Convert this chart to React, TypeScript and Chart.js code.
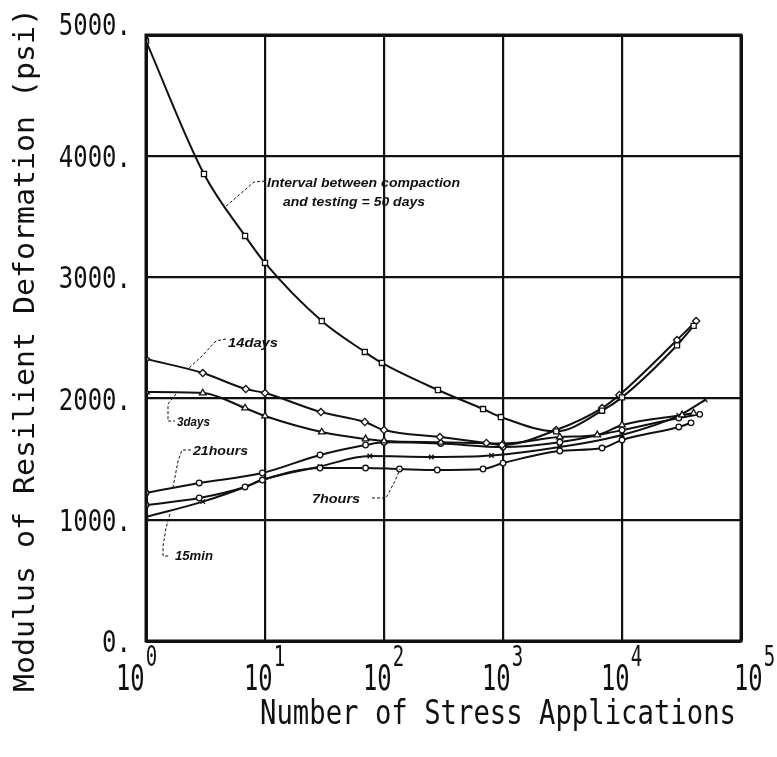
import { useEffect, useRef } from "react";
import { Chart, registerables } from "chart.js";

Chart.register(...registerables);

const W = 777;
const H = 757;

// ---- data (N = number of stress applications, M = modulus psi) ----
const days50N = [1, 3.07, 6.8, 10, 30, 69, 96, 284, 680, 960, 2800, 6800, 10000, 29000, 40000];
const days50M = [4950, 3853, 3342, 3119, 2640, 2385, 2294, 2071, 1914, 1848, 1730, 1900, 2010, 2440, 2600];

const days14N = [1, 3, 6.9, 10, 29.5, 69, 100, 295, 725, 980, 2800, 6800, 9500, 29000, 42000];
const days14M = [2327, 2211, 2079, 2046, 1889, 1807, 1741, 1683, 1634, 1617, 1741, 1922, 2030, 2483, 2640];

const days3N = [1, 3, 6.8, 10, 30, 70, 100, 300, 1000, 3000, 6200, 10000, 32000, 40000];
const days3M = [2054, 2046, 1922, 1856, 1724, 1667, 1650, 1640, 1630, 1683, 1700, 1782, 1865, 1880];

const hours21N = [1, 2.8, 9.5, 29, 70, 100, 300, 1000, 3000, 10000, 30000, 45000];
const hours21M = [1221, 1304, 1386, 1535, 1617, 1640, 1630, 1600, 1640, 1740, 1840, 1870];

const hours7N = [1, 2.8, 6.8, 9.5, 29, 70, 135, 280, 680, 1000, 3000, 6800, 10000, 30000, 38000];
const hours7M = [1122, 1180, 1271, 1328, 1427, 1427, 1419, 1411, 1419, 1468, 1568, 1592, 1658, 1766, 1800];

const min15N = [1, 3, 6.8, 9.5, 29, 76, 250, 800, 3000, 10000, 30000, 50000];
const min15M = [1023, 1150, 1271, 1330, 1440, 1526, 1518, 1530, 1600, 1700, 1860, 1990];

const xTickExponents = [0, 1, 2, 3, 4, 5];
const yTickValues = [0, 1000, 2000, 3000, 4000, 5000];
const xTitle = "Number of Stress Applications";
const yTitle = "Modulus of Resilient Deformation (psi)";

const INK = "#111111";
const MONO = '"DejaVu Sans Mono", monospace';
const ITAL = '"Liberation Sans", Arial, sans-serif';

function pts(n: number[], m: number[]) {
  return n.map((x, i) => ({ x, y: m[i] }));
}

// draw text fitted horizontally into [left, right]
function fitText(ctx: CanvasRenderingContext2D, text: string, left: number, right: number, baseline: number, font: string) {
  ctx.save();
  ctx.font = font;
  ctx.textAlign = "left";
  ctx.textBaseline = "alphabetic";
  const w = ctx.measureText(text).width;
  const sx = (right - left) / w;
  ctx.translate(left, baseline);
  ctx.scale(sx, 1);
  ctx.fillText(text, 0, 0);
  ctx.restore();
}

function condText(ctx: CanvasRenderingContext2D, text: string, x: number, y: number, size: number, sx: number, align: CanvasTextAlign) {
  ctx.save();
  ctx.font = `${size}px ${MONO}`;
  ctx.textAlign = align;
  ctx.textBaseline = "alphabetic";
  ctx.translate(x, y);
  ctx.scale(sx, 1);
  ctx.fillText(text, 0, 0);
  ctx.restore();
}

function leader(ctx: CanvasRenderingContext2D, path: number[][]) {
  ctx.save();
  ctx.strokeStyle = INK;
  ctx.lineWidth = 1;
  ctx.setLineDash([3, 2]);
  ctx.beginPath();
  path.forEach((p, i) => (i === 0 ? ctx.moveTo(p[0], p[1]) : ctx.lineTo(p[0], p[1])));
  ctx.stroke();
  ctx.restore();
}

const bgPlugin = {
  id: "bg",
  beforeDraw(chart: any) {
    const ctx = chart.ctx;
    ctx.save();
    ctx.fillStyle = "#ffffff";
    ctx.fillRect(0, 0, chart.width, chart.height);
    ctx.restore();
  },
};

const textPlugin = {
  id: "texts",
  afterDraw(chart: any) {
    const ctx: CanvasRenderingContext2D = chart.ctx;
    const xs = chart.scales.x;
    const ys = chart.scales.y;
    const area = chart.chartArea;
    ctx.save();
    ctx.fillStyle = INK;

    // frame
    ctx.strokeStyle = INK;
    ctx.lineWidth = 3;
    ctx.strokeRect(area.left, area.top, area.right - area.left, area.bottom - area.top);

    // y tick labels
    yTickValues.forEach((v) => {
      let py = ys.getPixelForValue(v);
      if (v === yTickValues[yTickValues.length - 1]) py -= 11;
      condText(ctx, v.toFixed(0) + ".", 131, py + 11, 30, 0.8, "right");
    });

    // x tick labels: 10^k
    xTickExponents.forEach((e, i) => {
      const gx = xs.getPixelForValue(Math.pow(10, e));
      let start = gx - 21;
      if (i === 0) start = gx - 30;
      if (i === xTickExponents.length - 1) start = gx - 7;
      condText(ctx, "10", start, 690, 35, 0.68, "left");
      const w10 = 2 * 0.602 * 35 * 0.68;
      condText(ctx, String(e), start + w10 + 1, 666, 28, 0.68, "left");
    });

    // axis titles
    fitText(ctx, xTitle, 260, 736, 724, `34px ${MONO}`);
    ctx.save();
    ctx.translate(34, 0);
    ctx.rotate(-Math.PI / 2);
    fitText(ctx, yTitle, -692, -8, 0, `29px ${MONO}`);
    ctx.restore();

    // annotations
    const af = (s: number) => `italic bold ${s}px ${ITAL}`;
    fitText(ctx, "Interval between compaction", 267, 460, 187, af(12));
    fitText(ctx, "and testing = 50 days", 283, 425, 206, af(12));
    leader(ctx, [[265, 181], [254, 182], [224, 208]]);

    fitText(ctx, "14days", 228, 278, 347, af(13));
    leader(ctx, [[226, 339], [216, 341], [202, 356], [189, 368]]);

    fitText(ctx, "3days", 177, 210, 426, af(13));
    leader(ctx, [[176, 394], [168, 404], [168, 421], [175, 421]]);

    fitText(ctx, "21hours", 193, 248, 455, af(13));
    leader(ctx, [[191, 450], [182, 450], [178, 461], [175, 477], [173, 487]]);

    fitText(ctx, "7hours", 312, 360, 503, af(13));
    leader(ctx, [[372, 498], [386, 498], [395, 481], [400, 469]]);

    fitText(ctx, "15min", 175, 213, 560, af(13));
    leader(ctx, [[170, 514], [166, 528], [163, 546], [163, 556], [170, 556]]);

    ctx.restore();
  },
};

function series(label: string, n: number[], m: number[], style: any, r: number) {
  return {
    label,
    data: pts(n, m),
    borderColor: INK,
    borderWidth: 2,
    pointStyle: style,
    pointRadius: r,
    pointBorderWidth: 1.3,
    pointBorderColor: INK,
    pointBackgroundColor: "#ffffff",
    cubicInterpolationMode: "monotone" as const,
    fill: false,
  };
}

export default function App() {
  const ref = useRef<HTMLCanvasElement | null>(null);
  useEffect(() => {
    document.body.style.margin = "0";
    const canvas = ref.current;
    if (!canvas) return;
    const gridW = (ctx: any) => {
      const n = ctx.scale && ctx.scale.ticks ? ctx.scale.ticks.length : 0;
      return ctx.index === 0 || ctx.index === n - 1 ? 3 : 2.2;
    };
    const chart = new Chart(canvas, {
      type: "line",
      data: {
        datasets: [
          series("50 days", days50N, days50M, "rect", 3.6),
          series("14 days", days14N, days14M, "rectRot", 3.6),
          series("3 days", days3N, days3M, "triangle", 3.8),
          series("21 hours", hours21N, hours21M, "circle", 2.8),
          series("7 hours", hours7N, hours7M, "circle", 2.8),
          series("15 min", min15N, min15M, "crossRot", 3.2),
        ] as any,
      },
      options: {
        animation: false,
        responsive: false,
        devicePixelRatio: 1,
        layout: { padding: { left: 146, top: 35, right: 36, bottom: 116 } },
        plugins: { legend: { display: false }, tooltip: { enabled: false }, title: { display: false } },
        scales: {
          x: {
            type: "logarithmic",
            min: 1,
            max: 100000,
            afterBuildTicks: (axis: any) => {
              axis.ticks = xTickExponents.map((e) => ({ value: Math.pow(10, e) }));
            },
            ticks: { display: false },
            grid: { color: INK, lineWidth: gridW, drawTicks: false },
            border: { display: false },
          },
          y: {
            type: "linear",
            min: 0,
            max: 5000,
            afterBuildTicks: (axis: any) => {
              axis.ticks = yTickValues.map((v) => ({ value: v }));
            },
            ticks: { display: false },
            grid: { color: INK, lineWidth: gridW, drawTicks: false },
            border: { display: false },
          },
        },
      } as any,
      plugins: [bgPlugin, textPlugin],
    });
    return () => chart.destroy();
  }, []);
  return (
    <div style={{ width: W, height: H, position: "relative", background: "#fff" }}>
      <canvas ref={ref} width={W} height={H} style={{ display: "block", width: W, height: H }} />
    </div>
  );
}
